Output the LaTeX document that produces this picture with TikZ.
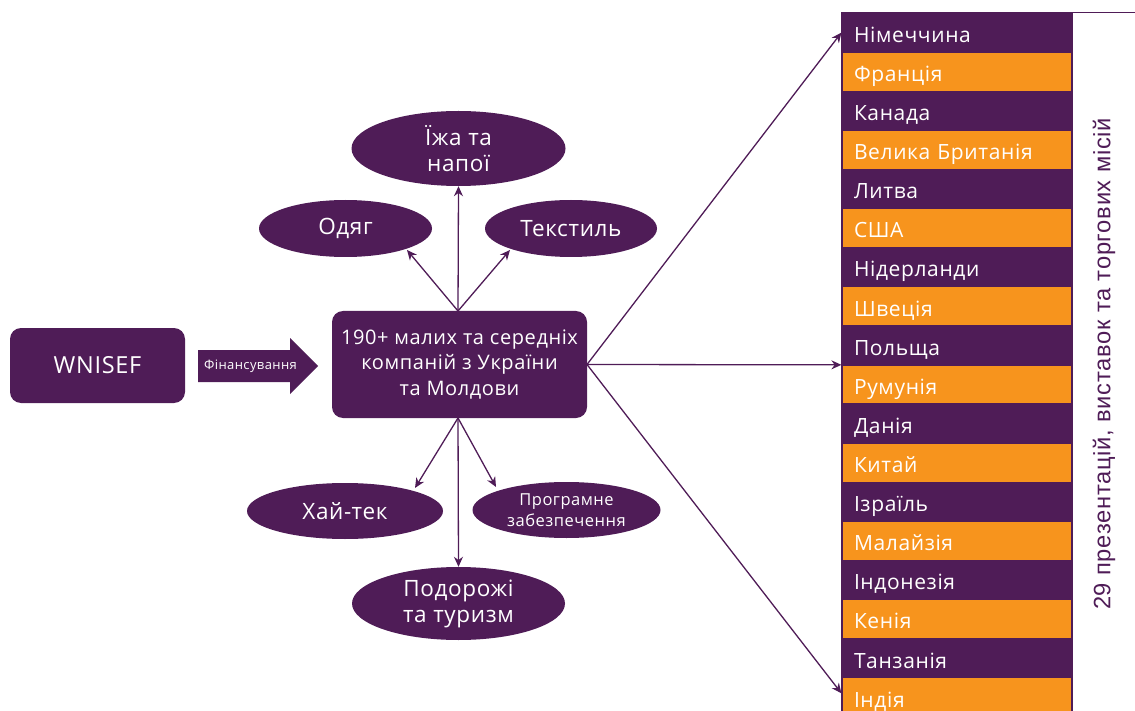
\documentclass[tikz,border=0pt]{standalone}
\usepackage{fontspec}
\setmainfont{Open Sans}[LetterSpace=3]
\newfontfamily\vfont{Liberation Sans}[LetterSpace=3]
\usetikzlibrary{shapes.geometric,arrows.meta}
\definecolor{pur}{HTML}{4F1C57}
\definecolor{org}{HTML}{F7941D}
\begin{document}
\begin{tikzpicture}[x=1pt,y=-1pt,
  box/.style={fill=pur, rounded corners=11pt, text=white, align=center, inner sep=0pt},
  ell/.style={ellipse, fill=pur, text=white, align=center, inner sep=0pt},
  conn/.style={draw=pur, line width=1.3pt, -{Stealth[length=10pt,width=9pt]}},
  rowbox/.style={rectangle, minimum width=230pt, minimum height=39.1pt, text width=206pt, inner xsep=12pt, inner ysep=0pt, align=left, text=white, draw=pur, line width=1.2pt, text height=19.6pt, text depth=0pt, font=\fontsize{21}{24}\selectfont}
]
\useasboundingbox (0,0) rectangle (1135,711);

% left box
\node[box, minimum width=175pt, minimum height=75pt, font=\fontsize{23.5}{26}\selectfont] (wn) at (97.5,365.5) {WNISEF};

% fat arrow
\fill[pur] (198,350) -- (290,350) -- (290,338) -- (318,366) -- (290,394) -- (290,382) -- (198,382) -- cycle;
\node[text=white, font=\fontsize{13}{15}\selectfont] (fin) at (250.5,366) {Фінансування};

% center box
\node[box, minimum width=255pt, minimum height=107pt, font=\fontsize{20}{25.5}\selectfont] (c) at (459.5,364.5) {190+ малих та середніх\\компаній з України\\та Молдови};

% ellipses
\node[ell, minimum width=214pt, minimum height=75pt, font=\fontsize{22.5}{26}\selectfont] (food) at (458.5,148.5) {Їжа та\\напої};
\node[ell, minimum width=173pt, minimum height=57pt, font=\fontsize{22.5}{26}\selectfont] (odyag) at (345.5,228.5) {Одяг};
\node[ell, minimum width=172pt, minimum height=57pt, font=\fontsize{22.5}{26}\selectfont] (text) at (571,228.5) {Текстиль};
\node[ell, minimum width=196pt, minimum height=56pt, font=\fontsize{22.5}{26}\selectfont] (hi) at (345,511) {Хай-тек};
\node[ell, minimum width=188pt, minimum height=56pt, font=\fontsize{16.5}{21}\selectfont] (soft) at (566.5,510) {Програмне\\забезпечення};
\node[ell, minimum width=213pt, minimum height=73pt, font=\fontsize{22.5}{26}\selectfont] (trav) at (458.5,603.5) {Подорожі\\та туризм};

% connectors to ellipses
\coordinate (ct) at (458,311);
\coordinate (cb) at (458,418);
\draw[conn] (ct) -- (food.south);
\draw[conn] (ct) -- (407,250);
\draw[conn] (ct) -- (510,250);
\draw[conn] (cb) -- (415,488);
\draw[conn] (cb) -- (496,487);
\draw[conn] (cb) -- (trav.north);

% top line
\draw[pur, line width=1pt] (842,13) -- (1135,13);

% rows
\foreach \t [count=\i from 0] in {Німеччина,Франція,Канада,Велика Британія,Литва,США,Нідерланди,Швеція,Польща,Румунія,Данія,Китай,Ізраїль,Малайзія,Індонезія,Кенія,Танзанія,Індія}{
  \ifodd\i
    \node[rowbox, fill=org] (r\i) at (957, 32.6+39.1*\i) {\t};
  \else
    \node[rowbox, fill=pur] (r\i) at (957, 32.6+39.1*\i) {\t};
  \fi
}

% connectors to rows
\coordinate (cr) at (587,364.5);
\draw[conn] (cr) -- (r0.west);
\draw[conn] (cr) -- ([yshift=0.7pt]r8.south west);
\draw[conn] (cr) -- ([yshift=4pt]r17.west);

% vertical text
\node[rotate=90, text=pur, font=\vfont\fontsize{23.7}{26}\selectfont] (vt) at (1104,364) {29 презентацій, виставок та торгових місій};
\end{tikzpicture}
\end{document}
